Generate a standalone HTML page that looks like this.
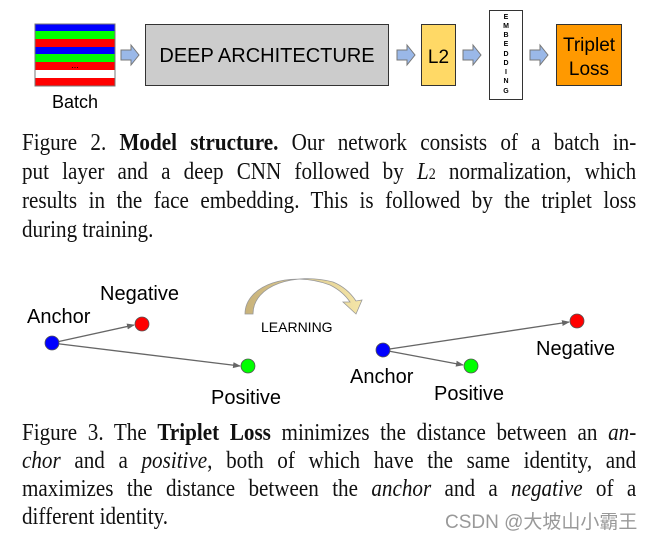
<!DOCTYPE html>
<html><head><meta charset="utf-8"><style>
body{margin:0;width:652px;height:538px;background:#fff;position:relative;overflow:hidden}
.cap{position:absolute;left:22px;width:698px;font-family:"Liberation Serif",serif;font-size:24px;line-height:24px;color:#111;text-align:justify;text-align-last:justify;transform:scaleX(0.88);transform-origin:0 0;white-space:nowrap}
.last{text-align-last:left}
.wm{position:absolute;left:445px;top:507px;font-family:"Liberation Sans","Noto Sans CJK SC",sans-serif;font-size:19px;color:#999}
</style></head><body>
<svg width="652" height="538" style="position:absolute;left:0;top:0" font-family="Liberation Sans, sans-serif">
<defs>
<linearGradient id="g" x1="0" y1="0" x2="1" y2="0"><stop offset="0" stop-color="#c8b27a"/><stop offset="1" stop-color="#f5e6a8"/></linearGradient>
<marker id="ah" markerWidth="8" markerHeight="8" refX="7" refY="4" orient="auto" markerUnits="userSpaceOnUse"><path d="M0,1 L8,4 L0,7z" fill="#666"/></marker>
</defs>
<g stroke="none">
<rect x="35" y="24" width="80" height="7" fill="#0000ff"/>
<rect x="35" y="31" width="80" height="8" fill="#00ff00"/>
<rect x="35" y="39" width="80" height="8" fill="#ff0000"/>
<rect x="35" y="47" width="80" height="7" fill="#0000ff"/>
<rect x="35" y="54" width="80" height="8" fill="#00ff00"/>
<rect x="35" y="62" width="80" height="8" fill="#ff0000"/>
<rect x="35" y="70" width="80" height="8" fill="#fff"/>
<rect x="35" y="78" width="80" height="8" fill="#ff0000"/>
</g>
<rect x="35" y="24" width="80" height="62" fill="none" stroke="#777" stroke-width="1"/>
<text x="75" y="68" font-size="9" text-anchor="middle">...</text>
<text x="75" y="108" font-size="18" text-anchor="middle">Batch</text>
<g fill="#9ab8e8" stroke="#777" stroke-width="1">
<path d="M121,50 h10 v-5 l8,10 l-8,10 v-5 h-10z"/>
<path d="M397,50 h10 v-5 l8,10 l-8,10 v-5 h-10z"/>
<path d="M463,50 h10 v-5 l8,10 l-8,10 v-5 h-10z"/>
<path d="M530,50 h10 v-5 l8,10 l-8,10 v-5 h-10z"/>
</g>
<rect x="145.5" y="24.5" width="243" height="61" fill="#cccccc" stroke="#333" stroke-width="1"/>
<text x="267" y="62" font-size="20" text-anchor="middle">DEEP ARCHITECTURE</text>
<rect x="421.5" y="24.5" width="34" height="61" fill="#ffd966" stroke="#333"/>
<text x="438.5" y="63" font-size="19" text-anchor="middle">L2</text>
<rect x="489.5" y="10.5" width="33" height="89" fill="#fff" stroke="#333"/>
<g font-size="7" text-anchor="middle" font-weight="bold">
<text x="506" y="19">E</text><text x="506" y="28">M</text><text x="506" y="37">B</text><text x="506" y="46">E</text><text x="506" y="56">D</text><text x="506" y="65">D</text><text x="506" y="74">I</text><text x="506" y="83">N</text><text x="506" y="93">G</text>
</g>
<rect x="556.5" y="24.5" width="65" height="61" fill="#ff9900" stroke="#333"/>
<text x="589" y="51" font-size="19" text-anchor="middle">Triplet</text>
<text x="589" y="75" font-size="19" text-anchor="middle">Loss</text>
<g stroke="#666" stroke-width="1.3" marker-end="url(#ah)">
<line x1="52" y1="343" x2="134" y2="325"/>
<line x1="52" y1="343" x2="240" y2="366"/>
<line x1="383" y1="350" x2="569" y2="322"/>
<line x1="383" y1="350" x2="463" y2="365"/>
</g>
<g stroke="#555" stroke-width="0.8">
<circle cx="52" cy="343" r="7" fill="#0000ff"/>
<circle cx="142" cy="324" r="7" fill="#ff0000"/>
<circle cx="248" cy="366" r="7" fill="#00ff00"/>
<circle cx="383" cy="350" r="7" fill="#0000ff"/>
<circle cx="471" cy="366" r="7" fill="#00ff00"/>
<circle cx="577" cy="321" r="7" fill="#ff0000"/>
</g>
<g font-size="20">
<text x="100" y="300">Negative</text>
<text x="27" y="323">Anchor</text>
<text x="211" y="404">Positive</text>
<text x="350" y="383">Anchor</text>
<text x="434" y="400">Positive</text>
<text x="536" y="355">Negative</text>
</g>
<text x="261" y="332" font-size="14">LEARNING</text>
<path d="M245,314 C245,285 290,270 330,285 C340,290 346,296 350,302 L343,302 L356,314 L362,300 L356,301 C350,292 343,286 333,282 C295,272 253,285 253,314z" fill="url(#g)" stroke="#999" stroke-width="0.8"/>
</svg>
<div class="cap" style="top:131px">Figure 2. <b>Model structure.</b> Our network consists of a batch in-</div>
<div class="cap" style="top:160px">put layer and a deep CNN followed by <i>L</i><span style="font-size:16px">2</span> normalization, which</div>
<div class="cap" style="top:189px">results in the face embedding. This is followed by the triplet loss</div>
<div class="cap last" style="top:218px">during training.</div>
<div class="cap" style="top:421px">Figure 3. The <b>Triplet Loss</b> minimizes the distance between an <i>an-</i></div>
<div class="cap" style="top:449px"><i>chor</i> and a <i>positive</i>, both of which have the same identity, and</div>
<div class="cap" style="top:477px">maximizes the distance between the <i>anchor</i> and a <i>negative</i> of a</div>
<div class="cap last" style="top:505px">different identity.</div>
<div class="wm">CSDN @大坡山小霸王</div>
</body></html>
